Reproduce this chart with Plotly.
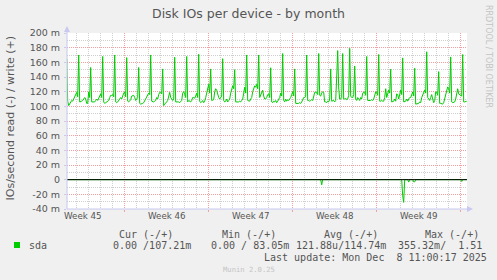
import plotly.graph_objects as go

# ---------------- data ----------------
# x in hours since Mon 2025-11-03 00:00 (start of Week 45); samples every 2 h
start_hour = 48  # Wed Nov 5 00:00
# write IOs/s (milli), one row per day, 12 two-hour samples (00:00 ... 22:00)
write_rows = [
    [112, 110, 165, 107, 101, 104, 106, 108, 107, 110, 112, 116],      # Nov 5
    [119, 113, 170, 106, 106, 107, 108, 111, 112, 110, 104, 104],      # Nov 6
    [119.5, 112, 153, 106, 106, 107, 106, 108, 110, 108, 112, 116],    # Nov 7
    [117, 112, 168, 106, 104, 105, 106, 107, 108, 112, 115, 115],      # Nov 8
    [116, 113, 170, 106, 105, 106, 108, 110, 112, 110, 115, 118],      # Nov 9
    [119.5, 113, 166.5, 107, 106, 107, 109, 114, 115, 115, 112, 108],  # Nov 10
    [110, 112, 153, 104, 103, 103, 104, 105, 108, 110, 112, 117],      # Nov 11
    [118, 116, 170, 107, 106, 106, 107, 108, 112, 110, 116, 119],      # Nov 12
    [119, 117, 151, 101, 103, 104, 106, 108, 116, 119, 112, 110],      # Nov 13
    [108, 110, 167, 106, 106, 107, 106, 105, 107, 108, 118, 120],      # Nov 14
    [117, 112, 168, 106, 108, 107, 106, 108, 112, 112, 111, 114],      # Nov 15
    [118, 112, 171, 107, 105, 106, 108, 105, 107, 112, 118, 124],      # Nov 16
    [130, 118, 151, 108, 108, 109, 120, 124, 122, 116, 112, 110],      # Nov 17
    [112, 114, 165, 108, 106, 107, 110, 106, 108, 110, 118, 126],      # Nov 18
    [128, 124, 150, 106, 106, 105, 106, 107, 106, 108, 110, 118],      # Nov 19
    [126, 118, 170, 108, 108, 107, 110, 112, 120, 125, 128, 126],      # Nov 20
    [130, 124, 170, 112, 116, 120, 122, 114, 110, 110, 112, 116],      # Nov 21
    [117, 112, 152.6, 106, 105, 107, 106, 108, 105, 107, 110, 112],    # Nov 22
    [118, 114, 172, 108, 106, 110, 107, 109, 108, 110, 112, 116],      # Nov 23
    [120, 114, 151, 104, 104, 103, 104, 105, 104, 106, 110, 112],      # Nov 24
    [112, 114, 170, 108, 108, 107, 108, 109, 108, 115, 119, 119],      # Nov 25
    [119, 116, 172, 115, 114, 118, 120, 119, 106, 106, 105, 107],      # Nov 26
    [106, 110, 151, 107, 107, 108, 106, 108, 140, 176, 125, 110],      # Nov 27
    [110, 112, 172, 110, 110, 111, 109, 110, 115, 179, 114, 112],      # Nov 28
    [112, 116, 155, 110, 108, 112, 110, 108, 112, 110, 118, 119],      # Nov 29
    [119.5, 115, 168, 108, 108, 107, 108, 109, 108, 110, 115, 119.5],  # Nov 30
    [119.5, 115, 170.7, 107, 107, 108, 107, 107, 112, 124, 112, 116],  # Dec 1
    [122, 118, 150.7, 106, 106, 107, 110, 107, 117, 116, 110, 115],    # Dec 2
    [122, 116, 166, 106, 106, 107, 110, 107, 110, 112, 112, 116],      # Dec 3
    [119.5, 114, 152, 103, 103, 103, 104, 106, 105, 112, 116, 118],    # Dec 4
    [122, 118, 174.4, 112, 110, 108, 112, 116, 110, 105, 108, 119.5],  # Dec 5
    [119.5, 115, 147.4, 104, 104, 104, 103, 105, 110, 116, 120, 126.5],  # Dec 6
    [124, 118, 167.4, 106, 105, 105, 106, 110, 118, 124, 117, 116],    # Dec 7
]
write_tail = [116, 114, 170.7, 106, 106, 107, 107]  # Dec 8 00:00 .. 12:00

# read IOs/s (milli, drawn negative): zero except these samples
read_dip_hours = [562, 724, 726, 736, 746, 748, 842]
read_dip_vals = [-7, -22, -31, -3.3, -3, -3, -2.5]

week_labels = ["Week 45", "Week 46", "Week 47", "Week 48", "Week 49"]
week_center_hours = [84, 252, 420, 588, 756]

ytick_vals = [-40, -20, 0, 20, 40, 60, 80, 100, 120, 140, 160, 180, 200]
ytick_text = ["-40 m", "-20 m", "0", "20 m", "40 m", "60 m", "80 m", "100 m",
              "120 m", "140 m", "160 m", "180 m", "200 m"]

legend_header = ["Cur (-/+)", "Min (-/+)", "Avg (-/+)", "Max (-/+)"]
legend_values = ["0.00 /107.21m", "0.00 / 83.05m", "121.88u/114.74m", "355.32m/  1.51"]
series_name = "sda"
last_update = "Last update: Mon Dec  8 11:00:17 2025"

write_vals = [v for row in write_rows for v in row] + write_tail
hours = [start_hour + 2 * i for i in range(len(write_vals))]
read_vals = [0.0] * len(hours)
for h, v in zip(read_dip_hours, read_dip_vals):
    read_vals[hours.index(h)] = v

# ---------------- layout geometry ----------------
W, H = 497, 280
PL, PR, PT, PB = 67, 467, 33, 209
X_RANGE = [52.6, 852.6]


def px(x):
    return (x - PL) / (PR - PL)


def py(y):
    return (PB - y) / (PB - PT)


GREEN = "#00cc00"
TXT = "#555555"
MINOR = "#cfcfcf"
MAJOR = "#f5a0a0"
AXIS = "#c8c8f0"
SANS = "DejaVu Sans"
MONO = "DejaVu Sans Mono"

fig = go.Figure()
fig.add_trace(go.Scatter(x=hours, y=read_vals, mode="lines",
                         line=dict(color=GREEN, width=1), hoverinfo="skip"))
fig.add_trace(go.Scatter(x=hours, y=write_vals, mode="lines",
                         line=dict(color=GREEN, width=1), hoverinfo="skip"))

fig.update_layout(
    width=W, height=H,
    margin=dict(l=PL, r=W - PR, t=PT, b=H - PB, pad=0),
    paper_bgcolor="#f0f0f0", plot_bgcolor="#ffffff",
    showlegend=False,
    font=dict(family=SANS, color=TXT),
)
fig.update_xaxes(
    range=X_RANGE, tick0=0, dtick=168, showticklabels=False,
    showgrid=True, gridcolor=MAJOR, griddash="1px,1px", gridwidth=1,
    ticks="outside", ticklen=2, tickcolor=MAJOR,
    zeroline=False, showline=False, fixedrange=True,
    minor=dict(tick0=0, dtick=24, showgrid=True, gridcolor=MINOR,
               griddash="1px,1px", gridwidth=1, ticks=""),
)
fig.update_yaxes(
    range=[-40, 200], tickvals=ytick_vals, ticktext=ytick_text,
    tickfont=dict(family=SANS, size=9.5, color=TXT),
    showgrid=True, gridcolor=MAJOR, griddash="1px,1px", gridwidth=1,
    ticks="outside", ticklen=2, tickcolor=AXIS, ticklabelstandoff=2,
    zeroline=False, showline=False, fixedrange=True,
    minor=dict(tick0=0, dtick=10, showgrid=True, gridcolor=MINOR,
               griddash="1px,1px", gridwidth=1, ticks=""),
)

shapes = []
# zero line
shapes.append(dict(type="line", xref="paper", yref="y", x0=0, x1=1, y0=0, y1=0,
                   line=dict(color="#000000", width=1), layer="above"))
# axes lines with arrows
shapes.append(dict(type="line", xref="paper", yref="paper", x0=0, x1=px(470),
                   y0=0, y1=0, line=dict(color=AXIS, width=1), layer="above"))
shapes.append(dict(type="line", xref="paper", yref="paper", x0=0, x1=0,
                   y0=0, y1=py(29), line=dict(color=AXIS, width=1), layer="above"))
shapes.append(dict(type="path", xref="paper", yref="paper",
                   path=f"M {px(467)},{py(206)} L {px(473)},{py(209)} L {px(467)},{py(212)} Z",
                   fillcolor=AXIS, line=dict(width=0), layer="above"))
shapes.append(dict(type="path", xref="paper", yref="paper",
                   path=f"M {px(64)},{py(32)} L {px(67)},{py(26)} L {px(70)},{py(32)} Z",
                   fillcolor=AXIS, line=dict(width=0), layer="above"))
# legend swatch
shapes.append(dict(type="rect", xref="paper", yref="paper",
                   x0=px(14), x1=px(20), y0=py(248), y1=py(242),
                   fillcolor=GREEN, line=dict(width=0)))
fig.update_layout(shapes=shapes)

ann = []
ann.append(dict(text="Disk IOs per device - by month", xref="paper", yref="paper",
                x=px(248.5), y=py(13.5), xanchor="center", yanchor="middle",
                showarrow=False, font=dict(family=SANS, size=12.5, color=TXT)))
ann.append(dict(text="IOs/second read (-) / write (+)", xref="paper", yref="paper",
                x=px(9.5), y=py(118), xanchor="center", yanchor="middle", textangle=-90,
                showarrow=False, font=dict(family=SANS, size=11, color=TXT)))
ann.append(dict(text="RRDTOOL / TOBI OETIKER", xref="paper", yref="paper",
                x=px(488.5), y=py(56.5), xanchor="center", yanchor="middle", textangle=90,
                showarrow=False, font=dict(family=SANS, size=8, color="#c4c4c4")))
for lab, h in zip(week_labels, week_center_hours):
    ann.append(dict(text=lab, xref="x", yref="paper", x=h, y=py(215.5),
                    xanchor="center", yanchor="middle", showarrow=False,
                    font=dict(family=SANS, size=8.7, color=TXT)))
hdr_x = [117, 220, 322, 423]
val_x = [111, 209, 294, 396]
for t, x in zip(legend_header, hdr_x):
    ann.append(dict(text=t, xref="paper", yref="paper", x=px(x), y=py(234),
                    xanchor="left", yanchor="middle", showarrow=False,
                    font=dict(family=MONO, size=10, color=TXT)))
for t, x in zip(legend_values, val_x):
    ann.append(dict(text=t.replace(" ", "&nbsp;"), xref="paper", yref="paper", x=px(x), y=py(245.7),
                    xanchor="left", yanchor="middle", showarrow=False,
                    font=dict(family=MONO, size=10, color=TXT)))
ann.append(dict(text=series_name, xref="paper", yref="paper", x=px(26.5), y=py(245.7),
                xanchor="left", yanchor="middle", showarrow=False,
                font=dict(family=MONO, size=10, color=TXT)))
ann.append(dict(text=last_update.replace(" ", "&nbsp;"), xref="paper", yref="paper",
                x=px(262), y=py(257.7), xanchor="left", yanchor="middle", showarrow=False,
                font=dict(family=MONO, size=10, color=TXT)))
ann.append(dict(text="Munin 2.0.25", xref="paper", yref="paper",
                x=px(249), y=py(269.3), xanchor="center", yanchor="middle", showarrow=False,
                font=dict(family=MONO, size=7.2, color="#c4c4c4")))
fig.update_layout(annotations=ann)

fig.write_html("out.html", config={"displayModeBar": False})
